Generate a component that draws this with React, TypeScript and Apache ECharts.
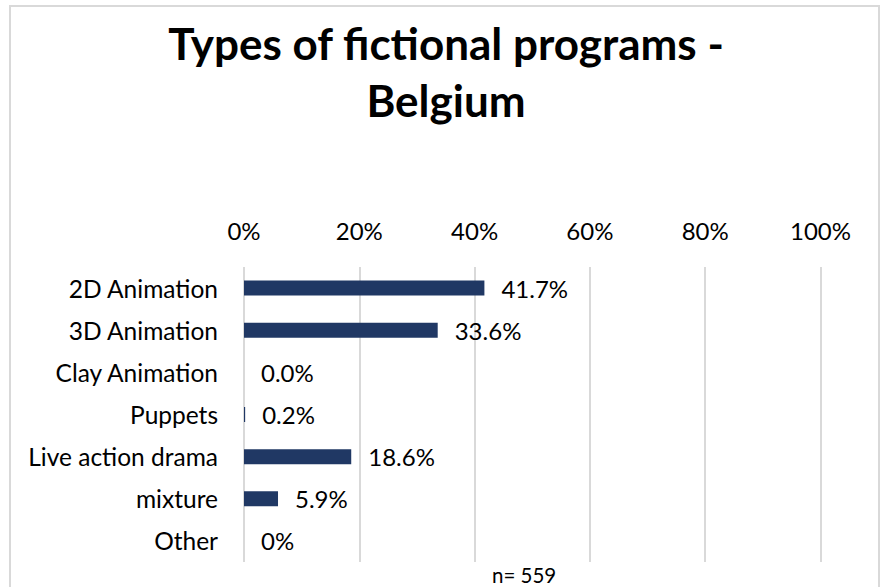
import React, { useEffect, useRef } from "react";
import * as echarts from "echarts";

const categories = [
  "2D Animation",
  "3D Animation",
  "Clay Animation",
  "Puppets",
  "Live action drama",
  "mixture",
  "Other",
];
const values = [41.7, 33.6, 0.0, 0.2, 18.6, 5.9, 0];
const valueLabels = ["41.7%", "33.6%", "0.0%", "0.2%", "18.6%", "5.9%", "0%"];
const titleText = "Types of fictional programs -\nBelgium";
const noteText = "n= 559";

export default function App() {
  const ref = useRef<HTMLDivElement>(null);
  useEffect(() => {
    if (!ref.current) return;
    const chart = echarts.init(ref.current, null, { renderer: "svg" });
    const font = "Lato, 'Open Sans', sans-serif";
    chart.setOption({
      animation: false,
      backgroundColor: "#ffffff",
      title: {
        text: titleText,
        left: 441,
        textAlign: "center",
        top: 9,
        textStyle: {
          fontFamily: font,
          fontWeight: "bold",
          fontSize: 44,
          lineHeight: 57,
          color: "#000000",
        },
      },
      graphic: [
        {
          type: "rect",
          shape: { x: 10, y: 6, width: 869, height: 600 },
          style: { fill: "none", stroke: "#d9d9d9", lineWidth: 2 },
          silent: true,
        },
        {
          type: "text",
          x: 492,
          y: 585,
          style: {
            text: noteText,
            fontFamily: font,
            fontSize: 20.5,
            fill: "#000000",
            textVerticalAlign: "bottom",
          },
        },
      ],
      grid: { left: 244, right: 61.5, top: 267, bottom: 25, containLabel: false },
      xAxis: {
        type: "value",
        position: "top",
        min: 0,
        max: 100,
        interval: 20,
        axisLine: { show: false },
        axisTick: { show: false },
        splitLine: { show: true, lineStyle: { color: "#d9d9d9", width: 2 } },
        axisLabel: {
          formatter: "{value}%",
          fontFamily: font,
          fontSize: 24,
          color: "#000000",
          margin: 25,
        },
      },
      yAxis: {
        type: "category",
        data: categories,
        inverse: true,
        axisLine: { show: false },
        axisTick: { show: false },
        axisLabel: {
          fontFamily: font,
          fontSize: 24.5,
          color: "#000000",
          margin: 26,
        },
      },
      series: [
        {
          type: "bar",
          data: values,
          barWidth: 15,
          itemStyle: { color: "#203864" },
          label: {
            show: true,
            position: "right",
            distance: 17,
            fontFamily: font,
            fontSize: 24,
            color: "#000000",
            formatter: (p: any) => valueLabels[p.dataIndex],
          },
        },
      ],
    });
    return () => chart.dispose();
  }, []);
  return (
    <div
      ref={ref}
      style={{ position: "fixed", left: 0, top: 0, width: 882, height: 587 }}
    />
  );
}
